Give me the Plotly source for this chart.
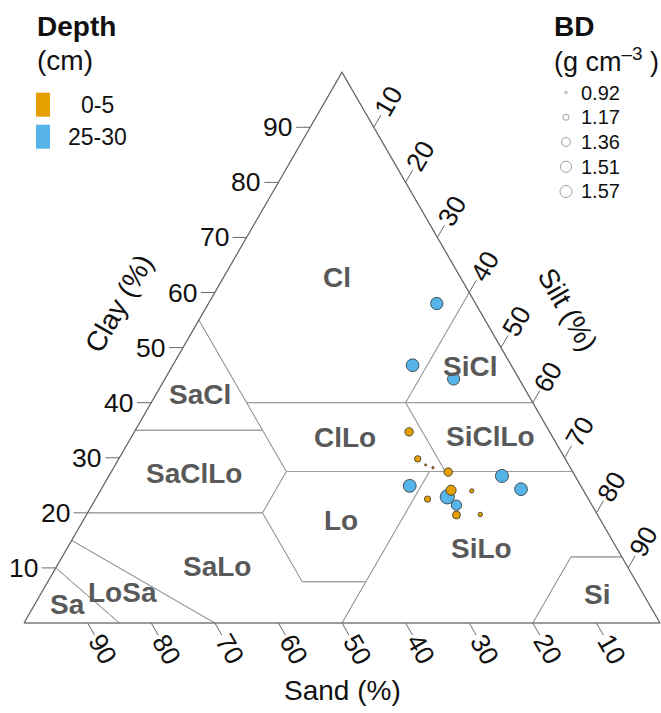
import numpy as np
import plotly.graph_objects as go

# ---------------- data (percent of fine earth) ----------------
depth_labels = ["0-5", "25-30"]

top_sand = [22.1, 23.2, 22.5, 21.6, 19.6, 25.3, 20.8, 22.2, 17.6, 18.4]
top_silt = [43.2, 47.0, 48.8, 50.2, 53.0, 52.2, 55.1, 58.2, 58.4, 61.9]
top_clay = [34.7, 29.8, 28.7, 28.2, 27.4, 22.5, 24.1, 19.6, 24.0, 19.7]
top_bd = [1.26, 1.15, 0.92, 0.93, 1.26, 1.14, 1.35, 1.23, 1.03, 1.04]

sub_sand = [6.1, 15.5, 10.3, 26.9, 22.0, 21.3, 11.5, 9.7]
sub_silt = [35.9, 37.7, 45.4, 48.2, 55.1, 57.3, 61.8, 66.0]
sub_clay = [58.0, 46.8, 44.3, 24.9, 22.9, 21.4, 26.7, 24.3]
sub_bd = [1.47, 1.49, 1.46, 1.50, 1.57, 1.36, 1.51, 1.49]

bd_breaks = [0.92, 1.17, 1.36, 1.51, 1.57]
tick_values = [10, 20, 30, 40, 50, 60, 70, 80, 90]

# USDA texture classes, vertices as (sand, silt, clay)
usda_classes = {
    "Cl": [(0, 0, 100), (45, 0, 55), (45, 15, 40), (20, 40, 40), (0, 40, 60)],
    "SiCl": [(0, 40, 60), (20, 40, 40), (0, 60, 40)],
    "SaCl": [(45, 0, 55), (65, 0, 35), (45, 20, 35)],
    "ClLo": [(45, 15, 40), (20, 40, 40), (20, 52.5, 27.5), (45, 27.5, 27.5)],
    "SiClLo": [(20, 40, 40), (0, 60, 40), (0, 72.5, 27.5), (20, 52.5, 27.5)],
    "SaClLo": [(65, 0, 35), (80, 0, 20), (52.5, 27.5, 20), (45, 27.5, 27.5), (45, 20, 35)],
    "Lo": [(45, 27.5, 27.5), (52.5, 27.5, 20), (52.5, 40, 7.5), (42.5, 50, 7.5), (22.5, 50, 27.5)],
    "SiLo": [(22.5, 50, 27.5), (50, 50, 0), (20, 80, 0), (8, 80, 12), (0, 88, 12), (0, 72.5, 27.5)],
    "Si": [(20, 80, 0), (0, 100, 0), (0, 88, 12), (8, 80, 12)],
    "SaLo": [(80, 0, 20), (85, 0, 15), (70, 30, 0), (50, 50, 0), (42.5, 50, 7.5),
             (52.5, 40, 7.5), (52.5, 27.5, 20)],
    "LoSa": [(85, 0, 15), (90, 0, 10), (85, 15, 0), (70, 30, 0)],
    "Sa": [(90, 0, 10), (100, 0, 0), (85, 15, 0)],
}

# ---------------- layout settings ----------------
W, H = 661, 713
PX = 6.36                 # pixels per percent along a triangle side
ORIGIN = (24.0, 623.0)    # pixel position of the 100 % sand corner
FONT = "Liberation Sans, Arial, sans-serif"
COL_TOP = "#E69F00"
COL_SUB = "#56B4E9"
EDGE = "#6a6a6a"
GRID = "#9c9c9c"
CLASS_TXT = "#595959"

# where each class name is written, as (silt, clay)
label_at = {
    "Cl": (17.8, 62.8), "SiCl": (46.9, 46.5), "SaCl": (7.0, 41.4),
    "ClLo": (33.7, 33.6), "SiClLo": (56.4, 33.8), "SaClLo": (13.1, 27.2),
    "Lo": (40.5, 18.7), "SiLo": (65.2, 13.6), "SaLo": (25.3, 10.2),
    "LoSa": (12.8, 5.5), "Sa": (5.1, 3.4), "Si": (87.5, 5.1),
}

S3 = np.sqrt(3) / 2


def to_xy(silt, clay):
    silt = np.asarray(silt, float)
    clay = np.asarray(clay, float)
    return silt + clay / 2, clay * S3


def bd_diameter(bd):
    bd = np.asarray(bd, float)
    lo, hi = bd_breaks[0], bd_breaks[-1]
    return 3 + (bd - lo) / (hi - lo) * 12


def pxx(x):
    return x / W


def pxy(y):
    return 1 - y / H


fig = go.Figure()

# class boundaries
bx, by = [], []
for verts in usda_classes.values():
    ring = verts + [verts[0]]
    x, y = to_xy([v[1] for v in ring], [v[2] for v in ring])
    bx += list(x) + [None]
    by += list(y) + [None]
fig.add_trace(go.Scatter(x=bx, y=by, mode="lines", line=dict(color=GRID, width=1),
                         hoverinfo="skip"))

# outer triangle
tx, ty = to_xy([0, 100, 0, 0], [0, 0, 100, 0])
fig.add_trace(go.Scatter(x=tx, y=ty, mode="lines", line=dict(color=EDGE, width=1.2),
                         hoverinfo="skip"))

# ticks and tick labels
TL = 14 / PX
GAP = 16 / PX
kx, ky = [], []
annotations = []
tick_font = dict(family=FONT, size=26.5, color="#111111")
for v in tick_values:
    # clay, left side
    ex, ey = to_xy(0, v)
    kx += [ex, ex - TL, None]
    ky += [ey, ey, None]
    annotations.append(dict(x=ex - TL - 2 / PX, y=ey, text=str(v), xanchor="right",
                            yanchor="middle", font=tick_font))
    # sand, bottom side
    ex, ey = to_xy(100 - v, 0)
    d = np.array([0.5, -S3])
    e1 = np.array([ex, ey]) + TL * d
    kx += [ex, e1[0], None]
    ky += [ey, e1[1], None]
    c = e1 + GAP * d
    annotations.append(dict(x=c[0], y=c[1], text=str(v), textangle=60, xanchor="center",
                            yanchor="middle", font=tick_font))
    # silt, right side
    ex, ey = to_xy(v, 100 - v)
    d = np.array([0.5, S3])
    e1 = np.array([ex, ey]) + TL * d
    kx += [ex, e1[0], None]
    ky += [ey, e1[1], None]
    c = e1 + GAP * d
    annotations.append(dict(x=c[0], y=c[1], text=str(v), textangle=-60, xanchor="center",
                            yanchor="middle", font=tick_font))
fig.add_trace(go.Scatter(x=kx, y=ky, mode="lines", line=dict(color=EDGE, width=1),
                         hoverinfo="skip"))

# axis titles
title_font = dict(family=FONT, size=28, color="#111111")
mx, my = to_xy(0, 50)
annotations.append(dict(x=mx - S3 * 77 / PX + 0.5 * 6 / PX, y=my + 0.5 * 77 / PX + S3 * 6 / PX,
                        text="Clay (%)", textangle=-60, font=title_font))
mx, my = to_xy(50, 50)
annotations.append(dict(x=mx + S3 * 77 / PX, y=my + 0.5 * 77 / PX,
                        text="Silt (%)", textangle=60, font=title_font))
mx, my = to_xy(50, 0)
annotations.append(dict(x=mx, y=my - 67 / PX, text="Sand (%)", font=title_font))

# class names
for name, (si, cl) in label_at.items():
    x, y = to_xy(si, cl)
    annotations.append(dict(x=float(x), y=float(y), text=f"<b>{name}</b>",
                            font=dict(family=FONT, size=28, color=CLASS_TXT)))

# samples
for sand, silt, clay, bd, col, lab in [
    (sub_sand, sub_silt, sub_clay, sub_bd, COL_SUB, depth_labels[1]),
    (top_sand, top_silt, top_clay, top_bd, COL_TOP, depth_labels[0]),
]:
    x, y = to_xy(silt, clay)
    fig.add_trace(go.Scatter(
        x=x, y=y, mode="markers", name=lab,
        customdata=np.column_stack([sand, silt, clay, bd]),
        hovertemplate="Sand %{customdata[0]}%<br>Silt %{customdata[1]}%<br>"
                      "Clay %{customdata[2]}%<br>BD %{customdata[3]}<extra></extra>",
        marker=dict(size=bd_diameter(bd) - 0.8, color=col, opacity=1,
                    line=dict(color="#2e2e2e", width=0.8)),
    ))

for a in annotations:
    a.setdefault("showarrow", False)
    a.setdefault("xref", "x")
    a.setdefault("yref", "y")

# depth legend
shapes = []
leg_title = dict(family=FONT, size=28, color="#111111")
annotations += [
    dict(xref="paper", yref="paper", x=pxx(35), y=pxy(26), text="<b>Depth</b>",
         xanchor="left", yanchor="middle", showarrow=False, font=leg_title),
    dict(xref="paper", yref="paper", x=pxx(35), y=pxy(60), text="(cm)",
         xanchor="left", yanchor="middle", showarrow=False, font=leg_title),
]
for i, (lab, col) in enumerate(zip(depth_labels, [COL_TOP, COL_SUB])):
    yc = 104.7 + i * 32
    shapes.append(dict(type="rect", xref="paper", yref="paper", x0=pxx(36), x1=pxx(50),
                       y0=pxy(yc - 12), y1=pxy(yc + 12), fillcolor=col, line=dict(width=0)))
    annotations.append(dict(xref="paper", yref="paper", x=pxx(97.5), y=pxy(yc), text=lab,
                            xanchor="center", yanchor="middle", showarrow=False,
                            font=dict(family=FONT, size=23, color="#111111")))

# bulk density legend
annotations += [
    dict(xref="paper", yref="paper", x=pxx(552), y=pxy(26), text="<b>BD</b>",
         xanchor="left", yanchor="middle", showarrow=False, font=leg_title),
    dict(xref="paper", yref="paper", x=pxx(552), y=pxy(60),
         text="(g cm<sup>\u20133</sup> )",
         xanchor="left", yanchor="middle", showarrow=False,
         font=dict(family=FONT, size=27, color="#111111")),
]
leg_d = bd_diameter(bd_breaks) * 0.8
for i, (b, dd) in enumerate(zip(bd_breaks, leg_d)):
    yc = 92.5 + i * 24.75
    r = dd / 2
    shapes.append(dict(type="circle", xref="paper", yref="paper", xsizemode="pixel",
                       ysizemode="pixel", xanchor=pxx(566), yanchor=pxy(yc),
                       x0=-r, x1=r, y0=-r, y1=r, line=dict(color="#a0a0a0", width=1)))
    annotations.append(dict(xref="paper", yref="paper", x=pxx(579), y=pxy(yc), text=f"{b:.2f}",
                            xanchor="left", yanchor="middle", showarrow=False,
                            font=dict(family=FONT, size=20, color="#111111")))

x0 = -ORIGIN[0] / PX
y0 = -(H - ORIGIN[1]) / PX
fig.update_layout(
    width=W, height=H, margin=dict(l=0, r=0, t=0, b=0),
    paper_bgcolor="white", plot_bgcolor="white", showlegend=False,
    xaxis=dict(visible=False, range=[x0, x0 + W / PX], fixedrange=True),
    yaxis=dict(visible=False, range=[y0, y0 + H / PX], fixedrange=True),
    annotations=annotations, shapes=shapes,
)

fig.write_html("out.html")
